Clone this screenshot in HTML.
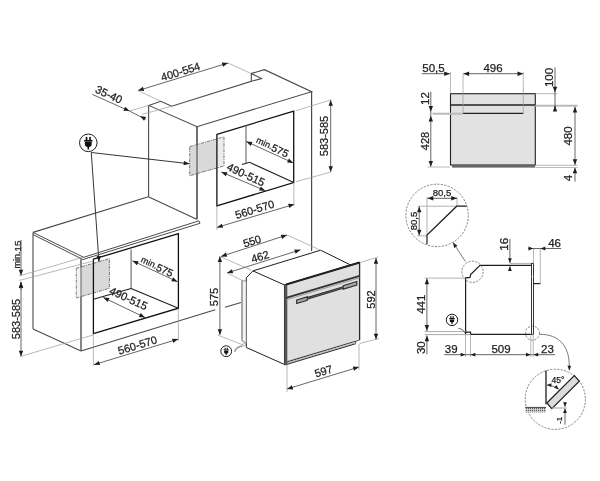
<!DOCTYPE html>
<html><head><meta charset="utf-8"><style>
html,body{margin:0;padding:0;background:#fff;}
svg{display:block;will-change:transform;}
text{font-family:"Liberation Sans",sans-serif;}
</style></head><body>
<svg width="600" height="481" viewBox="0 0 600 481">
<rect width="600" height="481" fill="#fff"/>
<polygon points="148.75,105.4 160.8,101.25 171.7,106.25 251.3,81.3 251.3,73.5 264.5,69.7 311.6,91.7 197,126.7" stroke="#4a4a4a" stroke-width="1.1" fill="none" stroke-linejoin="miter" />
<polyline points="251.3,73.5 261.5,78.5 251.3,81.3" stroke="#4a4a4a" stroke-width="1.1" fill="none" stroke-linejoin="miter" />
<line x1="148.6" y1="105.4" x2="148.6" y2="196.7" stroke="#4a4a4a" stroke-width="1.1"/>
<line x1="197" y1="126.7" x2="197" y2="219.2" stroke="#4a4a4a" stroke-width="1.1"/>
<line x1="311.6" y1="91.7" x2="311.6" y2="251" stroke="#4a4a4a" stroke-width="1.2"/>
<polygon points="189.7,146.6 216.7,139 216.7,168.6 189.7,175.7" fill="#d9d9d9"/>
<polygon points="216.7,139 224,136.8 224,165.9 216.7,168.6" fill="#ececec"/>
<polygon points="189.7,146.6 224,136.8 224,165.9 189.7,175.7" fill="none" stroke="#555" stroke-width="0.8" stroke-dasharray="3,1,1,1"/>
<line x1="197" y1="126.7" x2="197" y2="219.2" stroke="#4a4a4a" stroke-width="1.1"/>
<polygon points="216.9,134.4 293.7,111.2 293.7,182.5 216.9,205.9" stroke="#111" stroke-width="1.3" fill="none" stroke-linejoin="miter" />
<line x1="246" y1="125.5" x2="246" y2="162.7" stroke="#666" stroke-width="1.1"/>
<line x1="249.5" y1="162.3" x2="293.7" y2="182.5" stroke="#1e1e1e" stroke-width="1.1"/>
<line x1="242" y1="164.5" x2="249.5" y2="162.3" stroke="#1e1e1e" stroke-width="1.1"/>
<line x1="138" y1="90.6" x2="228" y2="63" stroke="#555" stroke-width="0.9"/>
<polygon points="138.00,90.60 142.90,86.80 144.19,91.00" fill="#1e1e1e"/>
<polygon points="228.00,63.00 223.10,66.80 221.81,62.60" fill="#1e1e1e"/>
<line x1="138" y1="90.6" x2="160.8" y2="101.25" stroke="#9a9a9a" stroke-width="0.7"/>
<line x1="228" y1="63" x2="251" y2="73.5" stroke="#9a9a9a" stroke-width="0.7"/>
<text x="180.5" y="71.5" font-size="11" text-anchor="middle" dominant-baseline="central" fill="#222" stroke="#222" stroke-width="0.25" transform="rotate(-17.049030972109815 180.5 71.5)" font-family="Liberation Sans" >400-554</text>
<line x1="92.3" y1="94.4" x2="129.6" y2="111.1" stroke="#555" stroke-width="0.9"/>
<line x1="129.6" y1="111.1" x2="145.7" y2="119.3" stroke="#555" stroke-width="0.9"/>
<polygon points="129.60,111.10 123.41,110.74 125.21,106.72" fill="#1e1e1e"/>
<polygon points="140.10,116.00 146.21,117.05 143.98,120.84" fill="#1e1e1e"/>
<line x1="129.6" y1="111.1" x2="149.2" y2="105.25" stroke="#9a9a9a" stroke-width="0.7"/>
<line x1="142.2" y1="114.3" x2="171.7" y2="106.25" stroke="#9a9a9a" stroke-width="0.7"/>
<text x="109" y="94.4" font-size="11" text-anchor="middle" dominant-baseline="central" fill="#222" stroke="#222" stroke-width="0.25" transform="rotate(24.999269430820398 109 94.4)" font-family="Liberation Sans" >35-40</text>
<line x1="246.3" y1="141.5" x2="293.3" y2="163" stroke="#555" stroke-width="0.9"/>
<polygon points="246.30,141.50 252.49,141.91 250.66,145.91" fill="#1e1e1e"/>
<polygon points="293.30,163.00 287.11,162.59 288.94,158.59" fill="#1e1e1e"/>
<text x="272.5" y="146.8" font-size="10.5" text-anchor="middle" dominant-baseline="central" fill="#222" stroke="#222" stroke-width="0.25" transform="rotate(24.999269430820398 272.5 146.8)" font-family="Liberation Sans" ><tspan font-size="9">min.</tspan>575</text>
<line x1="221.3" y1="172" x2="265.3" y2="190.7" stroke="#555" stroke-width="0.9"/>
<polygon points="221.30,172.00 227.50,172.24 225.78,176.29" fill="#1e1e1e"/>
<polygon points="265.30,190.70 259.10,190.46 260.82,186.41" fill="#1e1e1e"/>
<text x="246" y="174.5" font-size="11" text-anchor="middle" dominant-baseline="central" fill="#222" stroke="#222" stroke-width="0.25" transform="rotate(24.999269430820398 246 174.5)" font-family="Liberation Sans" >490-515</text>
<line x1="216.9" y1="227.4" x2="294.3" y2="204.3" stroke="#555" stroke-width="0.9"/>
<polygon points="216.90,227.40 221.83,223.63 223.09,227.85" fill="#1e1e1e"/>
<polygon points="294.30,204.30 289.37,208.07 288.11,203.85" fill="#1e1e1e"/>
<line x1="216.9" y1="205.9" x2="216.9" y2="230" stroke="#9a9a9a" stroke-width="0.7"/>
<line x1="293.9" y1="182.5" x2="293.9" y2="206" stroke="#9a9a9a" stroke-width="0.7"/>
<text x="254.7" y="209.3" font-size="11" text-anchor="middle" dominant-baseline="central" fill="#222" stroke="#222" stroke-width="0.25" transform="rotate(-17.049030972109815 254.7 209.3)" font-family="Liberation Sans" >560-570</text>
<line x1="330.7" y1="100" x2="330.7" y2="172" stroke="#555" stroke-width="0.9"/>
<polygon points="330.70,100.00 332.90,105.80 328.50,105.80" fill="#1e1e1e"/>
<polygon points="330.70,172.00 328.50,166.20 332.90,166.20" fill="#1e1e1e"/>
<line x1="296.1" y1="110.7" x2="331.3" y2="99.7" stroke="#9a9a9a" stroke-width="0.7"/>
<line x1="296" y1="181.7" x2="331" y2="172" stroke="#9a9a9a" stroke-width="0.7"/>
<text x="324" y="136" font-size="11" text-anchor="middle" dominant-baseline="central" fill="#222" stroke="#222" stroke-width="0.25" transform="rotate(-90 324 136)" font-family="Liberation Sans" >583-585</text>
<circle cx="88.3" cy="142.8" r="8.8" fill="white" stroke="#1e1e1e" stroke-width="1"/>
<g transform="translate(88.3,142.8) scale(1.0)" fill="#111"><rect x="-2.6" y="-6.1" width="1.7" height="3.6" rx="0.8"/><rect x="0.9" y="-6.1" width="1.7" height="3.6" rx="0.8"/><rect x="-4.1" y="-2.9" width="8.2" height="1.8"/><path d="M-3.4,-0.8 L3.4,-0.8 L3.4,1.6 Q3.4,3.6 1,4.2 L0.8,4.2 L0.8,6.6 L-0.8,6.6 L-0.8,4.2 L-1,4.2 Q-3.4,3.6 -3.4,1.6 Z"/></g>
<line x1="91.25" y1="152.5" x2="189.5" y2="163.75" stroke="#1e1e1e" stroke-width="0.9"/>
<polygon points="189.50,163.75 183.49,165.28 183.99,160.90" fill="#1e1e1e"/>
<line x1="91.25" y1="152.5" x2="99" y2="262" stroke="#1e1e1e" stroke-width="0.9"/>
<polygon points="99.00,262.00 96.40,256.37 100.79,256.06" fill="#1e1e1e"/>
<polyline points="33,232.4 148.3,196.7" stroke="#4a4a4a" stroke-width="1.1" fill="none" stroke-linejoin="miter" />
<polyline points="33,232.4 83.7,257.3 199,220.8 200,223.3 83,259.5 33,234.6" stroke="#4a4a4a" stroke-width="1.0" fill="none" stroke-linejoin="miter" />
<line x1="148.3" y1="196.7" x2="196.7" y2="219.2" stroke="#4a4a4a" stroke-width="1.1"/>
<line x1="33" y1="232.4" x2="33" y2="329" stroke="#4a4a4a" stroke-width="1.1"/>
<line x1="33" y1="329" x2="81" y2="351" stroke="#4a4a4a" stroke-width="1.1"/>
<line x1="81" y1="259.3" x2="81" y2="351" stroke="#4a4a4a" stroke-width="1.1"/>
<polygon points="76.3,268.3 81,266.9 81,296.7 76.3,298" fill="#f2f2f2"/>
<polygon points="81,266.9 109.4,258.6 109.4,288.3 81,296.7" fill="#d9d9d9"/>
<polygon points="76.3,268.3 109.4,258.6 109.4,288.3 76.3,298" fill="none" stroke="#555" stroke-width="0.8" stroke-dasharray="3,1,1,1"/>
<line x1="81" y1="259.3" x2="81" y2="351" stroke="#777" stroke-width="1.2"/>
<polygon points="93.4,259.2 178.4,233.6 178.4,308.2 93.4,333.6" stroke="#111" stroke-width="1.3" fill="none" stroke-linejoin="miter" />
<line x1="131.1" y1="249.4" x2="131.1" y2="288.7" stroke="#666" stroke-width="1.1"/>
<line x1="131.1" y1="288.5" x2="178.4" y2="308.2" stroke="#1e1e1e" stroke-width="1.1"/>
<line x1="93.4" y1="299.3" x2="131.1" y2="288.5" stroke="#1e1e1e" stroke-width="1.1"/>
<line x1="81" y1="351" x2="215.2" y2="309.8" stroke="#4a4a4a" stroke-width="1.1"/>
<line x1="225" y1="307.3" x2="241" y2="302.5" stroke="#4a4a4a" stroke-width="1.1"/>
<line x1="132.5" y1="260.8" x2="177.5" y2="281.7" stroke="#555" stroke-width="0.9"/>
<polygon points="132.50,260.80 138.69,261.25 136.83,265.24" fill="#1e1e1e"/>
<polygon points="177.50,281.70 171.31,281.25 173.17,277.26" fill="#1e1e1e"/>
<text x="157.2" y="266.4" font-size="10.5" text-anchor="middle" dominant-baseline="central" fill="#222" stroke="#222" stroke-width="0.25" transform="rotate(24.999269430820398 157.2 266.4)" font-family="Liberation Sans" ><tspan font-size="9">min.</tspan>575</text>
<line x1="103.3" y1="297.5" x2="145" y2="317.5" stroke="#555" stroke-width="0.9"/>
<polygon points="103.30,297.50 109.48,298.02 107.58,301.99" fill="#1e1e1e"/>
<polygon points="145.00,317.50 138.82,316.98 140.72,313.01" fill="#1e1e1e"/>
<text x="128.6" y="298.3" font-size="11" text-anchor="middle" dominant-baseline="central" fill="#222" stroke="#222" stroke-width="0.25" transform="rotate(24.999269430820398 128.6 298.3)" font-family="Liberation Sans" >490-515</text>
<line x1="93.9" y1="364.7" x2="178.2" y2="339.1" stroke="#555" stroke-width="0.9"/>
<polygon points="93.90,364.70 98.81,360.91 100.09,365.12" fill="#1e1e1e"/>
<polygon points="178.20,339.10 173.29,342.89 172.01,338.68" fill="#1e1e1e"/>
<line x1="93.4" y1="333.6" x2="93.4" y2="366" stroke="#9a9a9a" stroke-width="0.7"/>
<line x1="178.4" y1="308.2" x2="178.4" y2="341" stroke="#9a9a9a" stroke-width="0.7"/>
<text x="137.5" y="345" font-size="11" text-anchor="middle" dominant-baseline="central" fill="#222" stroke="#222" stroke-width="0.25" transform="rotate(-17.049030972109815 137.5 345)" font-family="Liberation Sans" >560-570</text>
<line x1="21" y1="282" x2="21" y2="356.5" stroke="#555" stroke-width="0.9"/>
<polygon points="21.00,282.00 23.20,287.80 18.80,287.80" fill="#1e1e1e"/>
<polygon points="21.00,356.50 18.80,350.70 23.20,350.70" fill="#1e1e1e"/>
<line x1="20" y1="356.6" x2="93" y2="335" stroke="#9a9a9a" stroke-width="0.7"/>
<text x="16" y="319" font-size="11" text-anchor="middle" dominant-baseline="central" fill="#222" stroke="#222" stroke-width="0.25" transform="rotate(-90 16 319)" font-family="Liberation Sans" >583-585</text>
<line x1="21" y1="240" x2="21" y2="275.6" stroke="#555" stroke-width="0.9"/>
<polygon points="21.00,275.60 18.80,269.80 23.20,269.80" fill="#1e1e1e"/>
<line x1="21" y1="282" x2="21" y2="290" stroke="#555" stroke-width="0.9"/>
<polygon points="21.00,282.00 23.20,287.80 18.80,287.80" fill="#1e1e1e"/>
<line x1="19" y1="276" x2="84" y2="257" stroke="#9a9a9a" stroke-width="0.7"/>
<line x1="19" y1="280.5" x2="93.3" y2="261" stroke="#9a9a9a" stroke-width="0.7"/>
<text x="17.5" y="254.6" font-size="9.8" text-anchor="middle" dominant-baseline="central" fill="#222" stroke="#222" stroke-width="0.25" transform="rotate(-90 17.5 254.6)" font-family="Liberation Sans" ><tspan font-size="9">min.</tspan>15</text>
<polyline points="252.9,270.9 320.6,250.2 352.3,265.8" stroke="#1e1e1e" stroke-width="1.0" fill="none" stroke-linejoin="miter" />
<polygon points="246.3,277.8 252.9,270.9 284.6,285 284.6,364.5 246.3,347.5" stroke="#1e1e1e" stroke-width="1.0" fill="white" stroke-linejoin="miter" />
<polygon points="242,280.2 246.3,281.5 246.3,342.9 242,340.8" stroke="#777" stroke-width="0.8" fill="#f4f4f4" stroke-linejoin="miter" />
<line x1="242" y1="281" x2="242" y2="340.8" stroke="#999" stroke-width="1.3"/>
<polygon points="284.6,285.0 359.6,262.5 359.6,340.1 284.6,362.6" fill="#e0e0e0"/>
<polyline points="284.6,365.0 284.6,285.0 359.6,262.5 359.6,340.1" stroke="#2a2a2a" stroke-width="1.3" fill="none" stroke-linejoin="miter" />
<polyline points="355.6,341.3 359.6,340.1" stroke="#555" stroke-width="1.0" fill="none" stroke-linejoin="miter" />
<polyline points="284.6,362.6 355.6,341.3" stroke="#444" stroke-width="1.1" fill="none" stroke-linejoin="miter" />
<polyline points="284.6,363.8 355.6,342.5" stroke="#bbb" stroke-width="1.0" fill="none" stroke-linejoin="miter" />
<polyline points="284.6,365.0 355.6,343.7" stroke="#333" stroke-width="1.2" fill="none" stroke-linejoin="miter" />
<polyline points="355.6,341.3 355.6,343.7" stroke="#444" stroke-width="0.9" fill="none" stroke-linejoin="miter" />
<line x1="285.9" y1="285" x2="285.9" y2="365" stroke="#555" stroke-width="2.8"/>
<polyline points="286.1,284.55 359.6,262.5" stroke="#222" stroke-width="2.0" fill="none" stroke-linejoin="miter" />
<polyline points="286.1,297.85 359.6,275.8" stroke="#333" stroke-width="1.8" fill="none" stroke-linejoin="miter" />
<polyline points="286.1,299.85 359.6,277.8" stroke="#888" stroke-width="0.8" fill="none" stroke-linejoin="miter" />
<polygon points="296.7,299.97 307.2,296.82 307.2,297.62 343.3,286.79 343.3,285.59 356.8,281.54 356.8,285.04 343.3,289.09 343.3,288.29 307.2,299.12 307.2,300.32 296.7,303.47" stroke="#333" stroke-width="1.2" fill="#aaa" stroke-linejoin="miter" />
<line x1="221" y1="256.5" x2="287" y2="235" stroke="#555" stroke-width="0.9"/>
<polygon points="221.00,256.50 225.83,252.61 227.20,256.80" fill="#1e1e1e"/>
<polygon points="287.00,235.00 282.17,238.89 280.80,234.70" fill="#1e1e1e"/>
<line x1="221" y1="257" x2="251" y2="270" stroke="#9a9a9a" stroke-width="0.7"/>
<line x1="287" y1="235" x2="320" y2="250" stroke="#9a9a9a" stroke-width="0.7"/>
<text x="252" y="241" font-size="11" text-anchor="middle" dominant-baseline="central" fill="#222" stroke="#222" stroke-width="0.25" transform="rotate(-17.049030972109815 252 241)" font-family="Liberation Sans" >550</text>
<line x1="227" y1="273" x2="300.5" y2="249.8" stroke="#555" stroke-width="0.9"/>
<polygon points="227.00,273.00 231.87,269.16 233.19,273.35" fill="#1e1e1e"/>
<polygon points="300.50,249.80 295.63,253.64 294.31,249.45" fill="#1e1e1e"/>
<line x1="227" y1="273" x2="241.5" y2="280" stroke="#9a9a9a" stroke-width="0.7"/>
<text x="260" y="256.5" font-size="11" text-anchor="middle" dominant-baseline="central" fill="#222" stroke="#222" stroke-width="0.25" transform="rotate(-17.049030972109815 260 256.5)" font-family="Liberation Sans" >462</text>
<line x1="219.9" y1="256.3" x2="219.9" y2="335" stroke="#555" stroke-width="0.9"/>
<polygon points="219.90,256.30 222.10,262.10 217.70,262.10" fill="#1e1e1e"/>
<polygon points="219.90,335.00 217.70,329.20 222.10,329.20" fill="#1e1e1e"/>
<line x1="217.5" y1="335" x2="244.1" y2="345.4" stroke="#9a9a9a" stroke-width="0.7"/>
<text x="214" y="297" font-size="11" text-anchor="middle" dominant-baseline="central" fill="#222" stroke="#222" stroke-width="0.25" transform="rotate(-90 214 297)" font-family="Liberation Sans" >575</text>
<line x1="376" y1="257.9" x2="376" y2="339.5" stroke="#555" stroke-width="0.9"/>
<polygon points="376.00,257.90 378.20,263.70 373.80,263.70" fill="#1e1e1e"/>
<polygon points="376.00,339.50 373.80,333.70 378.20,333.70" fill="#1e1e1e"/>
<line x1="360.4" y1="262.5" x2="378.3" y2="257" stroke="#9a9a9a" stroke-width="0.7"/>
<line x1="359.6" y1="343.5" x2="379" y2="338.5" stroke="#9a9a9a" stroke-width="0.7"/>
<text x="370.5" y="299.5" font-size="11" text-anchor="middle" dominant-baseline="central" fill="#222" stroke="#222" stroke-width="0.25" transform="rotate(-90 370.5 299.5)" font-family="Liberation Sans" >592</text>
<line x1="287" y1="389" x2="359" y2="367" stroke="#555" stroke-width="0.9"/>
<polygon points="287.00,389.00 291.90,385.20 293.19,389.41" fill="#1e1e1e"/>
<polygon points="359.00,367.00 354.10,370.80 352.81,366.59" fill="#1e1e1e"/>
<line x1="287" y1="365" x2="287" y2="392" stroke="#9a9a9a" stroke-width="0.7"/>
<line x1="359" y1="344" x2="359" y2="370" stroke="#9a9a9a" stroke-width="0.7"/>
<text x="323.5" y="371" font-size="11" text-anchor="middle" dominant-baseline="central" fill="#222" stroke="#222" stroke-width="0.25" transform="rotate(-17.049030972109815 323.5 371)" font-family="Liberation Sans" >597</text>
<circle cx="226.2" cy="351.2" r="5.4" fill="white" stroke="#1e1e1e" stroke-width="1"/>
<g transform="translate(226.2,351.2) scale(0.6136363636363636)" fill="#111"><rect x="-2.6" y="-6.1" width="1.7" height="3.6" rx="0.8"/><rect x="0.9" y="-6.1" width="1.7" height="3.6" rx="0.8"/><rect x="-4.1" y="-2.9" width="8.2" height="1.8"/><path d="M-3.4,-0.8 L3.4,-0.8 L3.4,1.6 Q3.4,3.6 1,4.2 L0.8,4.2 L0.8,6.6 L-0.8,6.6 L-0.8,4.2 L-1,4.2 Q-3.4,3.6 -3.4,1.6 Z"/></g>
<path d="M234.6,351.7 Q236.5,346.5 242.5,346.2" stroke="#888" stroke-width="1.3" fill="none"/><circle cx="244" cy="344.5" r="1.4" fill="none" stroke="#999" stroke-width="0.6"/>
<rect x="450.5" y="93.7" width="84.8" height="71.3" fill="#e2e2e2" stroke="#222" stroke-width="1.1"/>
<line x1="450.5" y1="105" x2="535.3" y2="105" stroke="#222" stroke-width="1.5"/>
<line x1="463" y1="113.3" x2="523.3" y2="113.3" stroke="#222" stroke-width="1.3"/>
<rect x="452" y="165" width="83" height="2.6" fill="#666"/>
<line x1="421.7" y1="73.7" x2="450" y2="73.7" stroke="#555" stroke-width="0.9"/>
<polygon points="450.00,73.70 444.20,75.90 444.20,71.50" fill="#1e1e1e"/>
<line x1="463.3" y1="73.7" x2="523.3" y2="73.7" stroke="#555" stroke-width="0.9"/>
<polygon points="463.30,73.70 469.10,71.50 469.10,75.90" fill="#1e1e1e"/>
<polygon points="523.30,73.70 517.50,75.90 517.50,71.50" fill="#1e1e1e"/>
<line x1="450.5" y1="72" x2="450.5" y2="93.7" stroke="#9a9a9a" stroke-width="0.7"/>
<line x1="463" y1="73.7" x2="463" y2="113.3" stroke="#9a9a9a" stroke-width="0.7"/>
<line x1="523.3" y1="71.7" x2="523.3" y2="113.3" stroke="#9a9a9a" stroke-width="0.7"/>
<text x="433.5" y="67.5" font-size="11.5" text-anchor="middle" dominant-baseline="central" fill="#222" stroke="#222" stroke-width="0.25" transform="rotate(0 433.5 67.5)" font-family="Liberation Sans" >50,5</text>
<text x="493" y="67.5" font-size="11.5" text-anchor="middle" dominant-baseline="central" fill="#222" stroke="#222" stroke-width="0.25" transform="rotate(0 493 67.5)" font-family="Liberation Sans" >496</text>
<line x1="432.5" y1="113.7" x2="463" y2="113.7" stroke="#bbb" stroke-width="2.0"/>
<line x1="430.8" y1="91.7" x2="430.8" y2="166.7" stroke="#555" stroke-width="0.9"/>
<polygon points="430.80,111.70 428.60,105.90 433.00,105.90" fill="#1e1e1e"/>
<polygon points="430.80,115.80 433.00,121.60 428.60,121.60" fill="#1e1e1e"/>
<polygon points="430.80,166.70 428.60,160.90 433.00,160.90" fill="#1e1e1e"/>
<text x="424.7" y="98.5" font-size="11.5" text-anchor="middle" dominant-baseline="central" fill="#222" stroke="#222" stroke-width="0.25" transform="rotate(-90 424.7 98.5)" font-family="Liberation Sans" >12</text>
<text x="425" y="141" font-size="11" text-anchor="middle" dominant-baseline="central" fill="#222" stroke="#222" stroke-width="0.25" transform="rotate(-90 425 141)" font-family="Liberation Sans" >428</text>
<line x1="427.5" y1="167" x2="450" y2="167" stroke="#9a9a9a" stroke-width="0.7"/>
<line x1="535.3" y1="93.7" x2="557.5" y2="93.7" stroke="#9a9a9a" stroke-width="0.7"/>
<line x1="535.3" y1="105.8" x2="577.5" y2="105.8" stroke="#bbb" stroke-width="2.0"/>
<line x1="555" y1="67.5" x2="555" y2="110.8" stroke="#555" stroke-width="0.9"/>
<polygon points="555.00,92.50 552.80,86.70 557.20,86.70" fill="#1e1e1e"/>
<line x1="555" y1="105.8" x2="555" y2="110.8" stroke="#555" stroke-width="0.9"/>
<polygon points="555.00,105.80 557.20,111.60 552.80,111.60" fill="#1e1e1e"/>
<text x="549" y="77.5" font-size="11.5" text-anchor="middle" dominant-baseline="central" fill="#222" stroke="#222" stroke-width="0.25" transform="rotate(-90 549 77.5)" font-family="Liberation Sans" >100</text>
<line x1="575" y1="106.7" x2="575" y2="165" stroke="#555" stroke-width="0.9"/>
<polygon points="575.00,106.70 577.20,112.50 572.80,112.50" fill="#1e1e1e"/>
<polygon points="575.00,165.00 572.80,159.20 577.20,159.20" fill="#1e1e1e"/>
<line x1="575" y1="167.5" x2="575" y2="181.7" stroke="#555" stroke-width="0.9"/>
<polygon points="575.00,167.50 577.20,173.30 572.80,173.30" fill="#1e1e1e"/>
<line x1="535.3" y1="165.3" x2="577.5" y2="165.3" stroke="#9a9a9a" stroke-width="0.7"/>
<line x1="535.3" y1="167.5" x2="577.5" y2="167.5" stroke="#bbb" stroke-width="1.2"/>
<text x="568.3" y="136" font-size="11.5" text-anchor="middle" dominant-baseline="central" fill="#222" stroke="#222" stroke-width="0.25" transform="rotate(-90 568.3 136)" font-family="Liberation Sans" >480</text>
<text x="568.3" y="178" font-size="11.5" text-anchor="middle" dominant-baseline="central" fill="#222" stroke="#222" stroke-width="0.25" transform="rotate(-90 568.3 178)" font-family="Liberation Sans" >4</text>
<circle cx="437.1" cy="215.4" r="31.2" fill="none" stroke="#666" stroke-width="0.8" stroke-dasharray="2.2,1.3"/>
<line x1="417.5" y1="206.2" x2="456.7" y2="206.2" stroke="#aaa" stroke-width="0.9"/>
<line x1="427" y1="196.7" x2="427" y2="235" stroke="#aaa" stroke-width="0.9"/>
<line x1="457" y1="196.7" x2="457" y2="206.2" stroke="#aaa" stroke-width="0.9"/>
<line x1="417.5" y1="235.8" x2="427" y2="235.8" stroke="#aaa" stroke-width="0.9"/>
<polyline points="466.7,206.2 456.7,206.2 427,235 427,244.2" stroke="#1e1e1e" stroke-width="1.2" fill="none" stroke-linejoin="miter" />
<line x1="427.5" y1="198.3" x2="457" y2="198.3" stroke="#555" stroke-width="0.9"/>
<polygon points="427.50,198.30 433.30,196.10 433.30,200.50" fill="#1e1e1e"/>
<polygon points="457.00,198.30 451.20,200.50 451.20,196.10" fill="#1e1e1e"/>
<line x1="419.2" y1="206.5" x2="419.2" y2="235.5" stroke="#555" stroke-width="0.9"/>
<polygon points="419.20,206.50 421.40,212.30 417.00,212.30" fill="#1e1e1e"/>
<polygon points="419.20,235.50 417.00,229.70 421.40,229.70" fill="#1e1e1e"/>
<text x="442" y="192.5" font-size="9.5" text-anchor="middle" dominant-baseline="central" fill="#222" stroke="#222" stroke-width="0.25" transform="rotate(0 442 192.5)" font-family="Liberation Sans" >80,5</text>
<text x="413.7" y="221" font-size="9.5" text-anchor="middle" dominant-baseline="central" fill="#222" stroke="#222" stroke-width="0.25" transform="rotate(-90 413.7 221)" font-family="Liberation Sans" >80,5</text>
<polyline points="531.5,265.3 480,265.3 470.6,274.6 470,277.4 465.6,277.8 465.6,333.4 466.5,332.2 470.5,332.2 470.7,334.4 531.5,334.4" stroke="#1e1e1e" stroke-width="1.2" fill="none" stroke-linejoin="miter" />
<line x1="509.9" y1="263.4" x2="531.5" y2="263.4" stroke="#999" stroke-width="0.8"/>
<rect x="531.5" y="263.4" width="2" height="71" fill="white" stroke="#222" stroke-width="0.9"/>
<line x1="531.5" y1="276.7" x2="533.5" y2="276.7" stroke="#fff" stroke-width="0.8"/>
<line x1="533.7" y1="283.6" x2="540.6" y2="283.6" stroke="#1e1e1e" stroke-width="1.2"/>
<circle cx="472.5" cy="271.8" r="10.6" fill="none" stroke="#666" stroke-width="0.8" stroke-dasharray="2.2,1.3"/>
<line x1="424.6" y1="278.1" x2="465.6" y2="278.1" stroke="#aaa" stroke-width="0.9"/>
<line x1="465.4" y1="261.5" x2="453" y2="242.5" stroke="#555" stroke-width="0.8"/>
<polygon points="453.00,242.50 457.52,245.76 454.17,247.95" fill="#1e1e1e"/>
<line x1="509.9" y1="239" x2="509.9" y2="263" stroke="#555" stroke-width="0.9"/>
<polygon points="509.90,263.00 508.00,258.20 511.80,258.20" fill="#1e1e1e"/>
<line x1="509.9" y1="266.2" x2="509.9" y2="271" stroke="#555" stroke-width="0.9"/>
<polygon points="509.90,266.20 511.80,271.00 508.00,271.00" fill="#1e1e1e"/>
<text x="504" y="244.3" font-size="11.5" text-anchor="middle" dominant-baseline="central" fill="#222" stroke="#222" stroke-width="0.25" transform="rotate(-90 504 244.3)" font-family="Liberation Sans" >16</text>
<line x1="528.1" y1="248.5" x2="561.1" y2="248.5" stroke="#555" stroke-width="0.9"/>
<polygon points="533.30,248.50 528.50,250.40 528.50,246.60" fill="#1e1e1e"/>
<polygon points="540.50,248.50 545.30,246.60 545.30,250.40" fill="#1e1e1e"/>
<line x1="533.5" y1="248.5" x2="533.5" y2="263.7" stroke="#9a9a9a" stroke-width="0.7"/>
<line x1="540.3" y1="248.5" x2="540.3" y2="283.6" stroke="#9a9a9a" stroke-width="0.7"/>
<text x="554.6" y="242.7" font-size="11.5" text-anchor="middle" dominant-baseline="central" fill="#222" stroke="#222" stroke-width="0.25" transform="rotate(0 554.6 242.7)" font-family="Liberation Sans" >46</text>
<line x1="426.9" y1="278.4" x2="426.9" y2="330.9" stroke="#555" stroke-width="0.9"/>
<polygon points="426.90,278.40 429.10,284.20 424.70,284.20" fill="#1e1e1e"/>
<polygon points="426.90,330.90 424.70,325.10 429.10,325.10" fill="#1e1e1e"/>
<line x1="426.9" y1="335.5" x2="426.9" y2="354.3" stroke="#555" stroke-width="0.9"/>
<polygon points="426.90,335.50 429.10,341.30 424.70,341.30" fill="#1e1e1e"/>
<line x1="424.6" y1="331.6" x2="465.5" y2="331.6" stroke="#aaa" stroke-width="1.0"/>
<line x1="424.6" y1="334.6" x2="470" y2="334.6" stroke="#aaa" stroke-width="1.0"/>
<text x="420.8" y="304.2" font-size="11.5" text-anchor="middle" dominant-baseline="central" fill="#222" stroke="#222" stroke-width="0.25" transform="rotate(-90 420.8 304.2)" font-family="Liberation Sans" >441</text>
<text x="420.8" y="347.7" font-size="11.5" text-anchor="middle" dominant-baseline="central" fill="#222" stroke="#222" stroke-width="0.25" transform="rotate(-90 420.8 347.7)" font-family="Liberation Sans" >30</text>
<line x1="465.5" y1="334" x2="465.5" y2="357" stroke="#9a9a9a" stroke-width="0.7"/>
<line x1="470.5" y1="334" x2="470.5" y2="357" stroke="#9a9a9a" stroke-width="0.7"/>
<line x1="444.2" y1="354.7" x2="555" y2="354.7" stroke="#555" stroke-width="0.9"/>
<polygon points="465.50,354.70 460.70,356.60 460.70,352.80" fill="#1e1e1e"/>
<polygon points="470.60,354.70 475.40,352.80 475.40,356.60" fill="#1e1e1e"/>
<polygon points="530.80,354.70 526.00,356.60 526.00,352.80" fill="#1e1e1e"/>
<polygon points="533.40,354.70 538.20,352.80 538.20,356.60" fill="#1e1e1e"/>
<line x1="530.8" y1="334" x2="530.8" y2="357" stroke="#9a9a9a" stroke-width="0.7"/>
<line x1="533.3" y1="334" x2="533.3" y2="357" stroke="#9a9a9a" stroke-width="0.7"/>
<text x="451.2" y="348.6" font-size="11.5" text-anchor="middle" dominant-baseline="central" fill="#222" stroke="#222" stroke-width="0.25" transform="rotate(0 451.2 348.6)" font-family="Liberation Sans" >39</text>
<text x="501" y="348.6" font-size="11.5" text-anchor="middle" dominant-baseline="central" fill="#222" stroke="#222" stroke-width="0.25" transform="rotate(0 501 348.6)" font-family="Liberation Sans" >509</text>
<text x="547.5" y="348.6" font-size="11.5" text-anchor="middle" dominant-baseline="central" fill="#222" stroke="#222" stroke-width="0.25" transform="rotate(0 547.5 348.6)" font-family="Liberation Sans" >23</text>
<circle cx="452" cy="319.9" r="5.7" fill="white" stroke="#1e1e1e" stroke-width="1"/>
<g transform="translate(452,319.9) scale(0.6477272727272727)" fill="#111"><rect x="-2.6" y="-6.1" width="1.7" height="3.6" rx="0.8"/><rect x="0.9" y="-6.1" width="1.7" height="3.6" rx="0.8"/><rect x="-4.1" y="-2.9" width="8.2" height="1.8"/><path d="M-3.4,-0.8 L3.4,-0.8 L3.4,1.6 Q3.4,3.6 1,4.2 L0.8,4.2 L0.8,6.6 L-0.8,6.6 L-0.8,4.2 L-1,4.2 Q-3.4,3.6 -3.4,1.6 Z"/></g>
<path d="M458.2,328.2 Q462.5,328.5 465,332.9" stroke="#777" stroke-width="1.1" fill="none"/>
<circle cx="532.5" cy="333.1" r="7" fill="none" stroke="#666" stroke-width="0.8" stroke-dasharray="2.2,1.3"/>
<path d="M540,334.3 C559,334.3 569.3,346 569.3,366" stroke="#555" stroke-width="0.8" fill="none"/>
<polygon points="569.30,370.70 567.50,365.70 571.10,365.70" fill="#1e1e1e"/>
<circle cx="555.3" cy="399.3" r="30.1" fill="none" stroke="#666" stroke-width="0.8" stroke-dasharray="2.2,1.3"/>
<line x1="546" y1="370.6" x2="546" y2="404.3" stroke="#1e1e1e" stroke-width="1.3"/>
<defs><pattern id="hatch" width="2" height="2" patternUnits="userSpaceOnUse"><rect width="2" height="2" fill="#ccc"/><rect width="1" height="1" fill="#555"/></pattern></defs>
<rect x="525.3" y="407.4" width="20.7" height="5" fill="url(#hatch)"/>
<line x1="525.3" y1="407.4" x2="546" y2="407.4" stroke="#444" stroke-width="1.0"/>
<polygon points="546.9,403 574.3,375.6 579.3,381.2 551.8,408.6" stroke="#1e1e1e" stroke-width="1.2" fill="#dcdcdc" stroke-linejoin="miter" />
<line x1="551.8" y1="408" x2="566.8" y2="408" stroke="#aaa" stroke-width="1.1"/>
<path d="M546.9,385 Q553.5,385.5 558.7,389.3" stroke="#444" stroke-width="0.8" fill="none"/>
<polygon points="546.90,385.00 551.44,383.19 551.36,386.99" fill="#1e1e1e"/>
<polygon points="558.70,389.30 554.06,387.77 556.56,384.91" fill="#1e1e1e"/>
<text x="558" y="379.7" font-size="8.5" text-anchor="middle" dominant-baseline="central" fill="#222" stroke="#222" stroke-width="0.25" transform="rotate(0 558 379.7)" font-family="Liberation Sans" >45°</text>
<line x1="565" y1="402.4" x2="565" y2="406.8" stroke="#555" stroke-width="0.9"/>
<polygon points="565.00,406.80 563.10,402.30 566.90,402.30" fill="#1e1e1e"/>
<line x1="565" y1="408.6" x2="565" y2="424.8" stroke="#555" stroke-width="0.9"/>
<polygon points="565.00,408.60 566.90,413.10 563.10,413.10" fill="#1e1e1e"/>
<text x="559.6" y="420.3" font-size="8" text-anchor="middle" dominant-baseline="central" fill="#222" stroke="#222" stroke-width="0.25" transform="rotate(-90 559.6 420.3)" font-family="Liberation Sans" >-1</text>
</svg></body></html>
